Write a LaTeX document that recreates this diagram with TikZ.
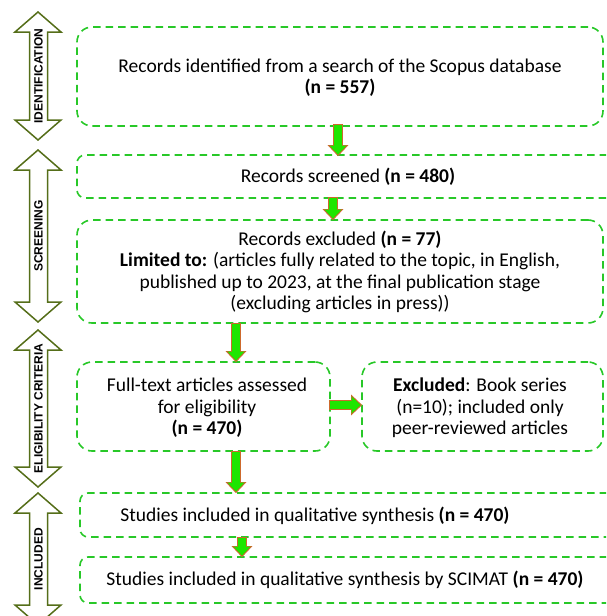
\documentclass[tikz,border=0pt]{standalone}
\usepackage{fontspec}
\setmainfont{Carlito}
\newfontfamily\sidefont{Liberation Sans}
\usetikzlibrary{arrows.meta}
\definecolor{boxgreen}{RGB}{40,200,40}
\definecolor{arrowgreen}{RGB}{30,230,0}
\definecolor{arrowedge}{RGB}{205,105,45}
\definecolor{sideedge}{RGB}{85,110,25}
\tikzset{
  box/.style={draw=boxgreen, dash pattern=on 7.5pt off 5pt, line width=1.6pt, rounded corners=15pt, inner sep=0pt},
  smallbox/.style={box, rounded corners=8pt},
  txt/.style={align=center, font=\fontsize{19.5}{21.3}\selectfont, inner sep=0pt},
  sideshape/.style={draw=sideedge, line width=1.5pt, fill=white, line join=miter},
  sidelab/.style={rotate=90, font=\sidefont\bfseries\fontsize{12}{14}\selectfont, inner sep=0pt},
  flowout/.style={draw=arrowedge, line width=9.5pt, -{Triangle[width=20pt,length=11pt]}},
  flowin/.style={draw=arrowgreen, line width=7.5pt, -{Triangle[width=16.5pt,length=9pt]}, shorten >=1.6pt, shorten <=0.8pt}
}
\newcommand\sidearrow[4]{%
  \draw[sideshape] (38,#2) -- (61,{#2+20}) -- (47.5,{#2+20}) -- (47.5,{#3-20}) -- (61,{#3-20})
     -- (38,#3) -- (15,{#3-20}) -- (29.5,{#3-20}) -- (29.5,{#2+20}) -- (15,{#2+20}) -- cycle;
  \node[sidelab] (#1) at (38.5,{(#2+#3)/2}) {#4};}
\newcommand\flow[2]{%
  \draw[flowout] (#1) -- (#2);
  \draw[flowin] (#1) -- (#2);}
\begin{document}
\begin{tikzpicture}[x=1pt,y=-1pt]
\useasboundingbox (0,0) rectangle (606,616);
\clip (0,0) rectangle (606,616);

% side arrows
\sidearrow{sid}{12}{140}{IDENTIFICATION}
\sidearrow{ssc}{150}{322}{SCREENING}
\sidearrow{sel}{330}{487}{ELIGIBILITY CRITERIA}
\sidearrow{sin}{493}{625}{INCLUDED}

% boxes
\node[box, minimum width=526pt, minimum height=99pt] (b1) at (340,76.5) {};
\node[smallbox, minimum width=538pt, minimum height=43pt] (b2) at (346,176.5) {};
\node[box, minimum width=526pt, minimum height=103pt] (b3) at (340,271.5) {};
\node[box, minimum width=253pt, minimum height=89pt] (b4) at (203.5,406.5) {};
\node[box, minimum width=241pt, minimum height=89pt] (b5) at (482.5,406.5) {};
\node[smallbox, minimum width=535pt, minimum height=44pt] (b6) at (347.5,515) {};
\node[smallbox, minimum width=535pt, minimum height=46pt] (b7) at (347.5,580) {};

% texts
\node[txt] (t1) at (340,78) {Records identified from a search of the Scopus database\\\textbf{(n = 557)}};
\node[txt] (t2) at (348,177) {Records screened \textbf{(n = 480)}};
\node[txt] (t3) at (340,272) {Records excluded \textbf{(n = 77)}\\\textbf{Limited to:} (articles fully related to the topic, in English,\\published up to 2023, at the final publication stage\\(excluding articles in press))};
\node[txt] (t4) at (207,408) {Full-text articles assessed\\for eligibility\\\textbf{(n = 470)}};
\node[txt] (t5) at (480,408) {\textbf{Excluded}: Book series\\(n=10); included only\\peer-reviewed articles};
\node[txt] (t6) at (315,516) {Studies included in qualitative synthesis \textbf{(n = 470)}};
\node[txt] (t7) at (345,580) {Studies included in qualitative synthesis by SCIMAT \textbf{(n = 470)}};

% block arrows
\coordinate (xa) at (338,0);
\coordinate (xb) at (333,0);
\coordinate (xc) at (236,0);
\coordinate (xd) at (242,0);
\coordinate (ya) at (0,405);
\coordinate (a1s) at ([yshift=3pt]b1.south -| xa);
\coordinate (a1e) at ([yshift=-2pt]b2.north -| xa);
\coordinate (a2s) at ([yshift=2pt]b2.south -| xb);
\coordinate (a2e) at ([yshift=-1pt]b3.north -| xb);
\coordinate (a3s) at ([yshift=1pt]b3.south -| xc);
\coordinate (a3e) at ([yshift=-1pt]b4.north -| xc);
\coordinate (a4s) at ([xshift=-2pt]b4.east |- ya);
\coordinate (a4e) at ([xshift=1pt]b5.west |- ya);
\coordinate (a5s) at ([yshift=1pt]b4.south -| xc);
\coordinate (a5e) at ([yshift=-1pt]b6.north -| xc);
\coordinate (a6s) at ([yshift=1pt]b6.south -| xd);
\coordinate (a6e) at ([yshift=-1pt]b7.north -| xd);
\flow{a1s}{a1e}
\flow{a2s}{a2e}
\flow{a3s}{a3e}
\flow{a4s}{a4e}
\flow{a5s}{a5e}
\flow{a6s}{a6e}
\end{tikzpicture}
\end{document}
